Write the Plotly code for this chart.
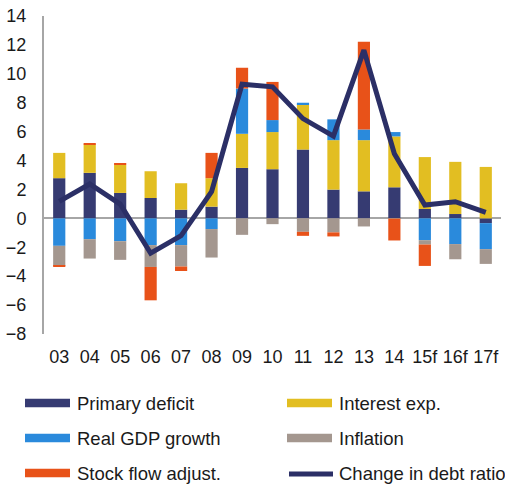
import plotly.graph_objects as go

categories = ["03", "04", "05", "06", "07", "08", "09", "10", "11", "12", "13", "14", "15f", "16f", "17f"]
primary_deficit = [2.78, 3.15, 1.76, 1.41, 0.60, 0.81, 3.49, 3.40, 4.76, 1.99, 1.87, 2.15, 0.65, 0.30, -0.33]
interest_exp = [1.75, 1.96, 1.94, 1.85, 1.83, 1.97, 2.36, 2.57, 3.11, 3.42, 3.54, 3.52, 3.59, 3.61, 3.56]
real_gdp_growth = [-1.90, -1.44, -1.58, -1.85, -1.85, -0.74, 3.13, 0.83, 0.13, 1.44, 0.74, 0.30, -1.51, -1.78, -1.80]
inflation = [-1.39, -1.34, -1.29, -1.51, -1.48, -1.97, -1.14, -0.40, -0.93, -0.97, -0.56, -0.02, -0.30, -1.05, -1.02]
stock_flow_adjust = [-0.05, 0.05, 0.07, -2.31, -0.31, 1.75, 1.44, 2.64, -0.28, -0.28, 6.07, -1.51, -1.48, 0.0, 0.0]
change_in_debt_ratio = [1.18, 2.38, 0.99, -2.41, -1.20, 1.85, 9.28, 9.10, 6.90, 5.69, 11.64, 4.47, 0.92, 1.15, 0.42]
y_ticks = [-8, -6, -4, -2, 0, 2, 4, 6, 8, 10, 12, 14]

C_NAVY = "#363B72"
C_YELLOW = "#E2BE22"
C_BLUE = "#2A8ADC"
C_GREY = "#A4978F"
C_ORANGE = "#E85219"
C_LINE = "#2B2F66"

FONT = "Liberation Sans, Arial, sans-serif"

fig = go.Figure()
for name, vals, col in [
    ("Primary deficit", primary_deficit, C_NAVY),
    ("Interest exp.", interest_exp, C_YELLOW),
    ("Real GDP growth", real_gdp_growth, C_BLUE),
    ("Inflation", inflation, C_GREY),
    ("Stock flow adjust.", stock_flow_adjust, C_ORANGE),
]:
    fig.add_trace(go.Bar(x=categories, y=vals, name=name, marker=dict(color=col, line=dict(width=0)),
                         showlegend=False))

fig.add_trace(go.Scatter(x=categories, y=change_in_debt_ratio, name="Change in debt ratio", mode="lines",
                         line=dict(color=C_LINE, width=5), showlegend=False))

# plot area geometry (pixels) for the custom legend
L, R, T, B = 44, 4, 16, 152
W, H = 505, 486
pw, ph = W - L - R, H - T - B


def px(x):
    return (x - L) / pw


def py(y):
    return (H - B - y) / ph


legend_items = [
    ("Primary deficit", C_NAVY, "bar", 25, 403),
    ("Interest exp.", C_YELLOW, "bar", 287, 403),
    ("Real GDP growth", C_BLUE, "bar", 25, 438),
    ("Inflation", C_GREY, "bar", 287, 438),
    ("Stock flow adjust.", C_ORANGE, "bar", 25, 473),
    ("Change in debt ratio", C_LINE, "line", 287, 474),
]
shapes = []
annotations = []
for text, col, kind, x0, yc in legend_items:
    if kind == "bar":
        shapes.append(dict(type="rect", xref="paper", yref="paper", x0=px(x0), x1=px(x0 + 45),
                           y0=py(yc - 4.2), y1=py(yc + 4.2), fillcolor=col, line=dict(width=0)))
    else:
        shapes.append(dict(type="line", xref="paper", yref="paper", x0=px(x0 + 2), x1=px(x0 + 46),
                           y0=py(yc), y1=py(yc), line=dict(color=col, width=5)))
    annotations.append(dict(text=text, xref="paper", yref="paper", x=px(x0 + 50), y=py(yc),
                            xanchor="left", yanchor="middle", showarrow=False,
                            font=dict(family=FONT, size=18.5, color="#1a1a1a")))

fig.update_layout(
    barmode="relative",
    bargap=0.6,
    width=W, height=H,
    margin=dict(l=L, r=R, t=T, b=B),
    paper_bgcolor="white", plot_bgcolor="white",
    showlegend=False,
    font=dict(family=FONT, size=18, color="#1a1a1a"),
    shapes=shapes,
    annotations=annotations,
    xaxis=dict(showgrid=False, showline=False, zeroline=False, ticks="",
               ticklabelstandoff=10, tickfont=dict(size=18), fixedrange=True),
    yaxis=dict(range=[-8, 14], tickvals=y_ticks, showgrid=False, showline=True, linecolor="#A6A6A6",
               linewidth=2, zeroline=True, zerolinecolor="#A6A6A6", zerolinewidth=2, ticks="",
               ticklabelstandoff=12, tickfont=dict(size=18)),
)

fig.write_html("out.html", config={"displayModeBar": False},
               post_script="document.body.style.margin='0';document.body.style.overflow='hidden';")
